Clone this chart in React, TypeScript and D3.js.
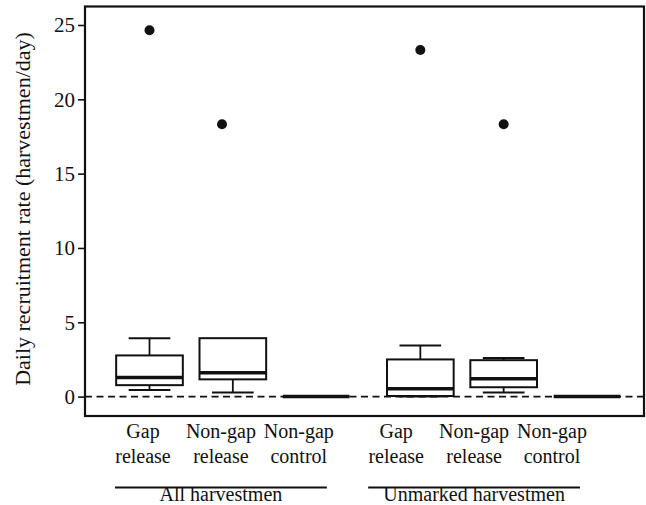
import { useEffect, useRef } from 'react';
import * as d3 from 'd3';

// two-line category labels under each box
const catTop = ['Gap', 'Non-gap', 'Non-gap', 'Gap', 'Non-gap', 'Non-gap'];
const catBottom = ['release', 'release', 'control', 'release', 'release', 'control'];
const groups = ['All harvestmen', 'Unmarked harvestmen'];

// box statistics (harvestmen/day)
const whiskerLow = [0.45, 0.27, 0, 0, 0.27, 0];
const q1 = [0.77, 1.16, 0, 0.04, 0.63, 0];
const median = [1.28, 1.6, 0, 0.52, 1.2, 0];
const q3 = [2.77, 3.93, 0, 2.5, 2.45, 0];
const whiskerHigh = [3.93, 3.93, 0, 3.43, 2.6, 0];
const outliers: (number | null)[] = [24.65, 18.32, null, 23.32, 18.32, null];

const yTicks = [0, 5, 10, 15, 20, 25];

export default function App() {
  const svgRef = useRef<SVGSVGElement>(null);

  useEffect(() => {
    if (!svgRef.current) return;
    const W = 646;
    const margin = { top: 6.5, right: 2, bottom: 89, left: 85 };
    const font = "'Liberation Serif', 'Times New Roman', Times, 'DejaVu Serif', serif";

    const svg = d3.select(svgRef.current);
    svg.selectAll('*').remove();

    // slot positions: groups separated by an extra quarter slot
    const pos = catTop.map((_, i) => i + 1 + (i >= 3 ? 0.25 : 0));

    const x = d3.scaleLinear().domain([0.226, 6.934]).range([margin.left, W - margin.right]);
    const xLab = d3.scaleLinear().domain([1, 6.25]).range([143, 552]);
    const y = d3.scaleLinear().domain([0, 25]).range([396.6, 25]);

    const boxW = x(0.8) - x(0);
    const capW = x(0.5) - x(0);

    // y axis
    const yAxis = svg.append('g')
      .attr('transform', `translate(${margin.left},0)`)
      .call(d3.axisLeft(y).tickValues(yTicks).tickSize(7).tickPadding(3));
    yAxis.attr('font-family', null).attr('font-size', null);
    yAxis.select('.domain').remove();
    yAxis.selectAll('line').attr('stroke', '#111').attr('stroke-width', 1.6);
    yAxis.selectAll('text').attr('fill', '#111').attr('class', 'tick-label');

    // zero reference
    svg.append('line')
      .attr('x1', margin.left).attr('x2', W - margin.right)
      .attr('y1', y(0)).attr('y2', y(0))
      .attr('stroke', '#111')
      .attr('stroke-width', 1.6)
      .attr('stroke-dasharray', '7 4.5');

    const boxes = svg.append('g');
    pos.forEach((p, i) => {
      const cx = x(p);
      const g = boxes.append('g').attr('stroke', '#111').attr('fill', 'none');
      if (q3[i] - q1[i] > 0) {
        // whiskers
        if (whiskerHigh[i] > q3[i]) {
          g.append('line').attr('x1', cx).attr('x2', cx)
            .attr('y1', y(q3[i])).attr('y2', y(whiskerHigh[i])).attr('stroke-width', 1.8);
          g.append('line').attr('x1', cx - capW / 2).attr('x2', cx + capW / 2)
            .attr('y1', y(whiskerHigh[i])).attr('y2', y(whiskerHigh[i])).attr('stroke-width', 2);
        }
        if (whiskerLow[i] < q1[i]) {
          g.append('line').attr('x1', cx).attr('x2', cx)
            .attr('y1', y(q1[i])).attr('y2', y(whiskerLow[i])).attr('stroke-width', 1.8);
          g.append('line').attr('x1', cx - capW / 2).attr('x2', cx + capW / 2)
            .attr('y1', y(whiskerLow[i])).attr('y2', y(whiskerLow[i])).attr('stroke-width', 2);
        }
        g.append('rect')
          .attr('x', cx - boxW / 2)
          .attr('y', y(q3[i]))
          .attr('width', boxW)
          .attr('height', y(q1[i]) - y(q3[i]))
          .attr('fill', '#fff')
          .attr('stroke-width', 2);
      }
      g.append('line')
        .attr('x1', cx - boxW / 2).attr('x2', cx + boxW / 2)
        .attr('y1', y(median[i])).attr('y2', y(median[i]))
        .attr('stroke-width', 3.5);

      const o = outliers[i];
      if (o !== null) {
        // the second outlier sits a little left of its box in the original
        const ox = i === 1 ? x(p - 0.13) : cx;
        svg.append('circle')
          .attr('cx', ox).attr('cy', y(o)).attr('r', 5)
          .attr('fill', '#111');
      }
    });

    // plot frame
    svg.append('rect')
      .attr('x', margin.left).attr('y', margin.top)
      .attr('width', W - margin.left - margin.right)
      .attr('height', 416 - margin.top)
      .attr('fill', 'none')
      .attr('stroke', '#111')
      .attr('stroke-width', 2.2);

    // category labels
    const labs = svg.append('g')
      .attr('text-anchor', 'middle')
      .attr('fill', '#111');
    pos.forEach((p, i) => {
      labs.append('text').attr('x', xLab(p)).attr('y', 438).text(catTop[i]);
      labs.append('text').attr('x', xLab(p)).attr('y', 463).text(catBottom[i]);
    });

    // group labels with rules
    groups.forEach((name, gi) => {
      const mid = xLab(gi === 0 ? 2 : 5.25);
      const half = xLab(1.36) - xLab(0);
      svg.append('line')
        .attr('x1', mid - half).attr('x2', mid + half)
        .attr('y1', 487.5).attr('y2', 487.5)
        .attr('stroke', '#111').attr('stroke-width', 2);
      labs.append('text').attr('x', mid).attr('y', 501).text(name);
    });

    svg.selectAll('text')
      .style('font-family', font)
      .style('font-size', '20px');
    svg.selectAll('.tick-label').style('font-size', '21px');

    // y label
    svg.append('text')
      .attr('transform', `translate(29.5,209) rotate(-90)`)
      .attr('text-anchor', 'middle')
      .attr('fill', '#111')
      .style('font-family', font)
      .style('font-size', '22px')
      .text('Daily recruitment rate (harvestmen/day)');
  }, []);

  return (
    <svg
      ref={svgRef}
      width={646}
      height={505}
      style={{ position: 'absolute', left: 0, top: 0, background: '#fff' }}
    />
  );
}
